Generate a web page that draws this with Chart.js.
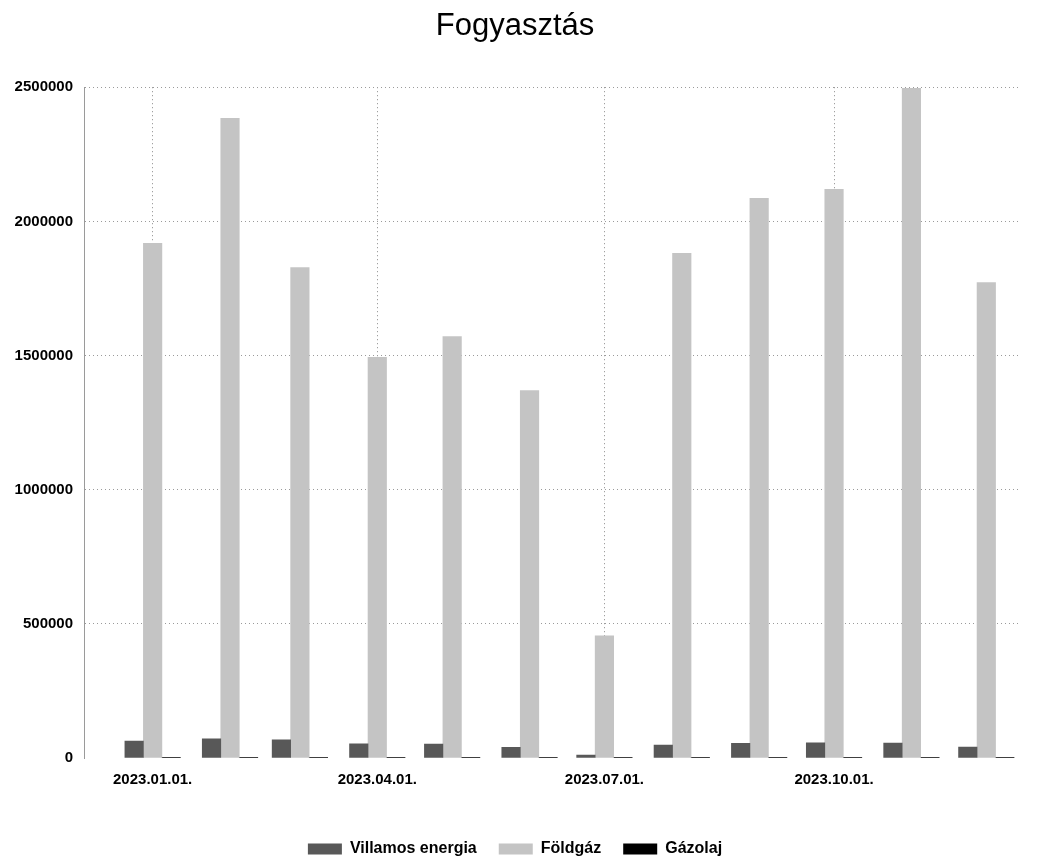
<!DOCTYPE html>
<html>
<head>
<meta charset="utf-8">
<script src="https://cdn.jsdelivr.net/npm/chart.js@4/dist/chart.umd.min.js"></script>
<style>
  body { margin: 0; background: #fff; }
  #wrap { width: 1046px; height: 859px; }
</style>
</head>
<body>
<div id="wrap"><canvas id="fogyChart"></canvas></div>
<script>
// Hónapok (kategóriák)
const honapok = ['2023.01.01.', '2023.02.01.', '2023.03.01.', '2023.04.01.', '2023.05.01.', '2023.06.01.',
                 '2023.07.01.', '2023.08.01.', '2023.09.01.', '2023.10.01.', '2023.11.01.', '2023.12.01.'];
// Sorozatok
const villamosEnergia = [63000, 71000, 68000, 53000, 52000, 40000, 11000, 48000, 55000, 57000, 56000, 41000];
const foldgaz = [1918000, 2384000, 1828000, 1493000, 1571000, 1369000, 455000, 1881000, 2086000, 2119000, 2496000, 1772000];
const gazolaj = [2500, 2500, 2500, 2500, 2500, 2500, 2500, 2500, 2500, 2500, 2500, 2500];
// Tengelyfeliratok
const xTickLabels = ['2023.01.01.', '2023.04.01.', '2023.07.01.', '2023.10.01.'];
const yTicks = [0, 500000, 1000000, 1500000, 2000000, 2500000];

const NAP = 24 * 3600 * 1000;

function datumbol(s) {
    const p = s.split('.');
    return Date.UTC(+p[0], +p[1] - 1, +p[2]);
}

function datumra(v) {
    const d = new Date(v);
    const ketjegy = n => (n < 10 ? '0' : '') + n;
    return d.getUTCFullYear() + '.' + ketjegy(d.getUTCMonth() + 1) + '.' + ketjegy(d.getUTCDate()) + '.';
}

function pontok(ertekek) {
    return honapok.map((h, i) => ({ x: datumbol(h), y: ertekek[i] }));
}

const csalad = "'Liberation Sans', Arial, sans-serif";
const tickBetu = { family: csalad, size: 15, weight: 'bold' };

const ctx = document.getElementById('fogyChart').getContext('2d');
new Chart(ctx, {
    type: 'bar',
    data: {
        datasets: [
            { label: 'Villamos energia', data: pontok(villamosEnergia), backgroundColor: '#585858' },
            { label: 'Földgáz', data: pontok(foldgaz), backgroundColor: '#c4c4c4' },
            { label: 'Gázolaj', data: pontok(gazolaj), backgroundColor: '#000000' }
        ]
    },
    options: {
        responsive: true,
        maintainAspectRatio: false,
        animation: false,
        barThickness: 18.5,
        layout: { padding: { left: 10, right: 26, top: 8, bottom: -8 } },
        plugins: {
            title: {
                display: true,
                text: 'Fogyasztás',
                color: '#000',
                font: { family: csalad, size: 31, weight: 'normal' },
                padding: { top: 0, bottom: 42 }
            },
            legend: {
                position: 'bottom',
                labels: {
                    color: '#000',
                    font: { family: csalad, size: 16, weight: 'bold' },
                    boxWidth: 34,
                    boxHeight: 11,
                    padding: 22
                }
            },
            tooltip: { enabled: false }
        },
        scales: {
            x: {
                type: 'linear',
                offset: false,
                min: datumbol(honapok[0]) - 27.5 * NAP,
                max: datumbol(honapok[11]) + 13.5 * NAP,
                afterBuildTicks: scale => {
                    scale.ticks = xTickLabels.map(l => ({ value: datumbol(l) }));
                },
                afterFit: scale => { scale.height = 61; },
                ticks: {
                    color: '#000',
                    font: tickBetu,
                    padding: 13,
                    maxRotation: 0,
                    autoSkip: false,
                    callback: v => datumra(v)
                },
                grid: {
                    offset: false,
                    drawTicks: false,
                    color: '#8a8a8a',
                    lineWidth: 1
                },
                border: { display: false, dash: [1, 3] }
            },
            y: {
                min: 0,
                max: 2500000,
                afterBuildTicks: scale => {
                    scale.ticks = yTicks.map(v => ({ value: v }));
                },
                afterFit: scale => { scale.width = 74; },
                ticks: {
                    color: '#000',
                    font: tickBetu,
                    padding: 11,
                    callback: v => String(v)
                },
                grid: {
                    drawTicks: false,
                    color: c => (c.tick && c.tick.value === 0) ? 'rgba(0,0,0,0)' : '#9a9a9a',
                    lineWidth: 1
                },
                border: { display: true, color: '#9a9a9a', dash: [1, 3] }
            }
        }
    }
});
</script>
</body>
</html>
